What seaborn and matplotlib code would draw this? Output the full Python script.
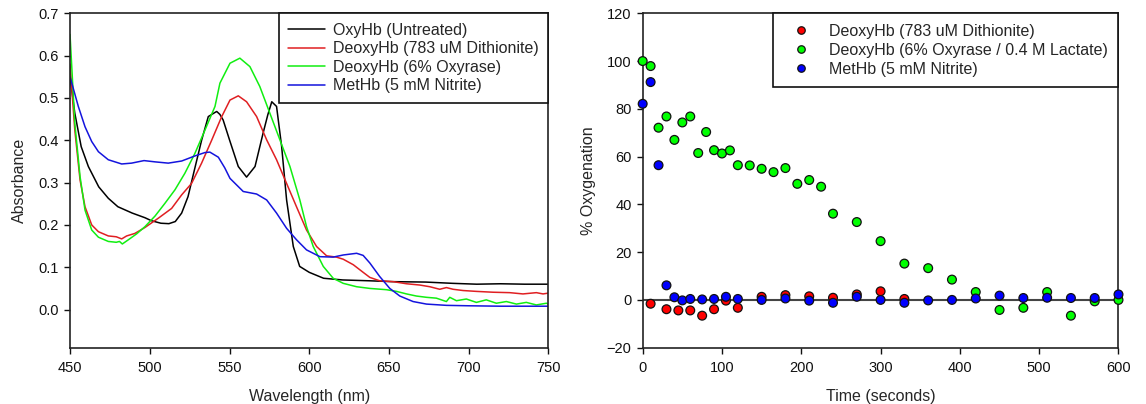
import matplotlib
matplotlib.use("Agg")
import matplotlib.pyplot as plt
from matplotlib.ticker import FormatStrFormatter, MultipleLocator
import seaborn as sns
import pandas as pd

# ---------------- data: absorbance spectra ----------------
wl_oxy = [450, 453, 457, 461.5, 468, 474, 480, 489, 497, 501, 507, 512, 516, 520, 524, 528,
          532.5, 536.7, 541, 542, 544, 546, 550, 555.5, 560.7, 566, 571, 574, 576.5, 579.5,
          582.7, 585.8, 590, 594, 600, 609, 621, 638, 652, 673, 690, 705, 720, 735, 750]
abs_oxy = [0.55, 0.464, 0.385, 0.338, 0.29, 0.263, 0.243, 0.228, 0.217, 0.21, 0.204, 0.203,
           0.208, 0.228, 0.267, 0.33, 0.40, 0.456, 0.466, 0.468, 0.461, 0.448, 0.401, 0.338,
           0.313, 0.338, 0.416, 0.46, 0.491, 0.48, 0.385, 0.259, 0.149, 0.102, 0.088, 0.074,
           0.070, 0.068, 0.066, 0.065, 0.062, 0.060, 0.061, 0.060, 0.060]

wl_dith = [450, 453, 456.3, 459.4, 463.6, 467.8, 474, 479, 482.4, 485.5, 490.7, 497, 505.4,
           513.7, 520, 526.2, 532.5, 538.8, 545, 550.3, 555.5, 560.7, 567, 573.3, 579.5, 585.8,
           592, 598.3, 604.6, 610.9, 617, 621.3, 627.6, 633.8, 638, 644.2, 652.6, 661, 669.3,
           675.6, 681.8, 686, 690.2, 696.5, 704.8, 715.3, 725.7, 734, 742.4, 746.6, 750]
abs_dith = [0.58, 0.424, 0.306, 0.243, 0.20, 0.184, 0.174, 0.172, 0.167, 0.174, 0.18, 0.194,
            0.216, 0.239, 0.271, 0.298, 0.346, 0.40, 0.455, 0.495, 0.505, 0.491, 0.456, 0.401,
            0.354, 0.298, 0.243, 0.188, 0.149, 0.127, 0.124, 0.119, 0.106, 0.088, 0.076, 0.068,
            0.066, 0.061, 0.058, 0.054, 0.048, 0.052, 0.048, 0.045, 0.043, 0.041, 0.040, 0.037,
            0.040, 0.037, 0.039]

wl_oxyr = [450, 453, 456.3, 459.4, 463.6, 467.8, 474, 479, 481, 482.8, 486.6, 491.8, 497, 503.3,
           509.5, 515.8, 522, 528.3, 534.6, 540.9, 544, 550.3, 556.5, 562.8, 569, 575.3, 581.6,
           587.9, 594.1, 598.3, 602.5, 608.8, 615, 621.3, 629.7, 638, 648.4, 654.7, 661, 667.2,
           673.5, 679.7, 686, 688.1, 692.3, 698.5, 704.8, 711, 717.3, 723.6, 729.9, 736.1,
           742.4, 748.7, 750]
abs_oxyr = [0.65, 0.44, 0.314, 0.235, 0.188, 0.171, 0.161, 0.159, 0.161, 0.155, 0.165, 0.179,
            0.196, 0.221, 0.251, 0.283, 0.322, 0.369, 0.424, 0.48, 0.535, 0.582, 0.594, 0.574,
            0.527, 0.464, 0.401, 0.338, 0.259, 0.196, 0.149, 0.102, 0.074, 0.062, 0.054, 0.050,
            0.047, 0.043, 0.037, 0.032, 0.029, 0.027, 0.019, 0.029, 0.021, 0.025, 0.017, 0.023,
            0.015, 0.019, 0.013, 0.017, 0.011, 0.015, 0.013]

wl_met = [450, 455.2, 459.4, 463.6, 467.8, 474, 482.4, 488.6, 496.4, 503.3, 511.6, 520, 528.3,
          534.6, 537.7, 543, 547, 550.3, 558.6, 567, 573.3, 579.5, 585.8, 592, 598.3, 606.7, 615,
          621.3, 629.7, 633.8, 638, 644.2, 650.5, 656.8, 665.1, 673.5, 686, 700, 720, 750]
abs_met = [0.55, 0.48, 0.432, 0.397, 0.373, 0.354, 0.344, 0.346, 0.352, 0.349, 0.346, 0.351,
           0.363, 0.371, 0.372, 0.36, 0.335, 0.31, 0.279, 0.273, 0.259, 0.228, 0.192, 0.165,
           0.141, 0.125, 0.124, 0.129, 0.133, 0.128, 0.11, 0.078, 0.05, 0.032, 0.019, 0.013,
           0.010, 0.009, 0.008, 0.008]

spec_labels = ["OxyHb (Untreated)", "DeoxyHb (783 uM Dithionite)",
               "DeoxyHb (6% Oxyrase)", "MetHb (5 mM Nitrite)"]
spec_colors = ["#000000", "#e01f22", "#11ee11", "#1414dd"]

# ---------------- data: oxygenation time course ----------------
t_dith = [10, 30, 45, 60, 75, 90, 105, 120, 150, 180, 210, 240, 270, 300, 330]
v_dith = [-1.6, -3.9, -4.4, -4.4, -6.6, -3.9, -0.3, -3.3, 1.3, 2.0, 1.5, 0.9, 2.3, 3.6, 0.4]

t_oxyr = [0, 10, 20, 30, 40, 50, 60, 70, 80, 90, 100, 110, 120, 135, 150, 165, 180, 195, 210,
          225, 240, 270, 300, 330, 360, 390, 420, 450, 480, 510, 540, 570, 600]
v_oxyr = [100, 97.9, 72.1, 76.8, 67.0, 74.3, 76.8, 61.5, 70.3, 62.7, 61.3, 62.6, 56.4, 56.3,
          54.9, 53.5, 55.2, 48.6, 50.2, 47.4, 36.1, 32.6, 24.6, 15.2, 13.3, 8.5, 3.3, -4.2,
          -3.3, 3.3, -6.6, -0.6, 0.0]

t_met = [0, 10, 20, 30, 40, 50, 60, 75, 90, 105, 120, 150, 180, 210, 240, 270, 300, 330, 360,
         390, 420, 450, 480, 510, 540, 570, 600]
v_met = [82.1, 91.2, 56.4, 6.1, 1.1, -0.2, 0.4, 0.2, 0.4, 1.3, 0.4, 0.0, 0.6, -0.3, -1.2, 1.3,
         0.0, -1.2, -0.2, 0.0, 0.6, 1.8, 0.8, 0.9, 0.8, 0.8, 2.3]

time_labels = ["DeoxyHb (783 uM Dithionite)", "DeoxyHb (6% Oxyrase / 0.4 M Lactate)",
               "MetHb (5 mM Nitrite)"]
time_colors = ["#ff0000", "#00ff00", "#0000ff"]

# ---------------- build long-form tables ----------------
spec_df = pd.concat([
    pd.DataFrame({"wl": w, "A": a, "series": lab})
    for w, a, lab in zip([wl_oxy, wl_dith, wl_oxyr, wl_met],
                         [abs_oxy, abs_dith, abs_oxyr, abs_met], spec_labels)
], ignore_index=True)

time_df = pd.concat([
    pd.DataFrame({"t": t, "v": v, "series": lab})
    for t, v, lab in zip([t_dith, t_oxyr, t_met], [v_dith, v_oxyr, v_met], time_labels)
], ignore_index=True)

# ---------------- style ----------------
sns.set_style("ticks")
plt.rcParams["font.family"] = ["Liberation Sans", "DejaVu Sans"]
plt.rcParams["axes.edgecolor"] = "#222222"
plt.rcParams["axes.linewidth"] = 1.2

fig = plt.figure(figsize=(11.46, 4.04), dpi=100)
ax1 = fig.add_axes([0.0611, 0.1394, 0.4175, 0.8277])
ax2 = fig.add_axes([0.5608, 0.1394, 0.4152, 0.8277])

tick_fs = 10.5
label_fs = 11.5
leg_fs = 11.5

# ---------------- left: spectra ----------------
sns.lineplot(data=spec_df, x="wl", y="A", hue="series", hue_order=spec_labels,
             palette=spec_colors, estimator=None, sort=False, linewidth=1.1, ax=ax1)
ax1.set_xlim(450, 750)
ax1.set_ylim(-0.09, 0.7)
ax1.xaxis.set_major_locator(MultipleLocator(50))
ax1.set_yticks([0.0, 0.1, 0.2, 0.3, 0.4, 0.5, 0.6, 0.7])
ax1.yaxis.set_major_formatter(FormatStrFormatter("%.1f"))
ax1.set_xlabel("Wavelength (nm)", fontsize=label_fs, labelpad=10)
ax1.set_ylabel("Absorbance", fontsize=label_fs, labelpad=8)
leg1 = ax1.legend(loc="upper right", borderaxespad=0, fontsize=leg_fs, frameon=True,
                  fancybox=False, framealpha=1, edgecolor="#111111", handlelength=2.3,
                  handletextpad=0.5, labelspacing=0.22, borderpad=0.6)
leg1.get_frame().set_linewidth(1.2)

# ---------------- right: oxygenation ----------------
ax2.axhline(0, color="#444444", linewidth=1.5, zorder=1)
sns.scatterplot(data=time_df, x="t", y="v", hue="series", hue_order=time_labels,
                palette=time_colors, s=40, edgecolor="#111111", linewidth=0.9,
                clip_on=False, zorder=3, ax=ax2)
ax2.set_xlim(0, 600)
ax2.set_ylim(-20, 120)
ax2.xaxis.set_major_locator(MultipleLocator(100))
ax2.yaxis.set_major_locator(MultipleLocator(20))
ax2.set_xlabel("Time (seconds)", fontsize=label_fs, labelpad=10)
ax2.set_ylabel("% Oxygenation", fontsize=label_fs, labelpad=8)
leg2 = ax2.legend(loc="upper right", borderaxespad=0, fontsize=leg_fs, frameon=True,
                  fancybox=False, framealpha=1, edgecolor="#111111", handlelength=2.3,
                  handletextpad=0.6, labelspacing=0.25, borderpad=0.65, markerscale=0.85)
leg2.get_frame().set_linewidth(1.2)

for ax in (ax1, ax2):
    for side in ("top", "right", "left", "bottom"):
        ax.spines[side].set_visible(True)
        ax.spines[side].set_color("#222222")
        ax.spines[side].set_linewidth(1.2)
    ax.tick_params(axis="both", direction="out", length=4.5, width=1.0,
                   labelsize=tick_fs, colors="#111111", top=False, right=False)
    ax.tick_params(axis="x", pad=5)
    ax.tick_params(axis="y", pad=3.5)

fig.savefig("out.png", dpi=100)
